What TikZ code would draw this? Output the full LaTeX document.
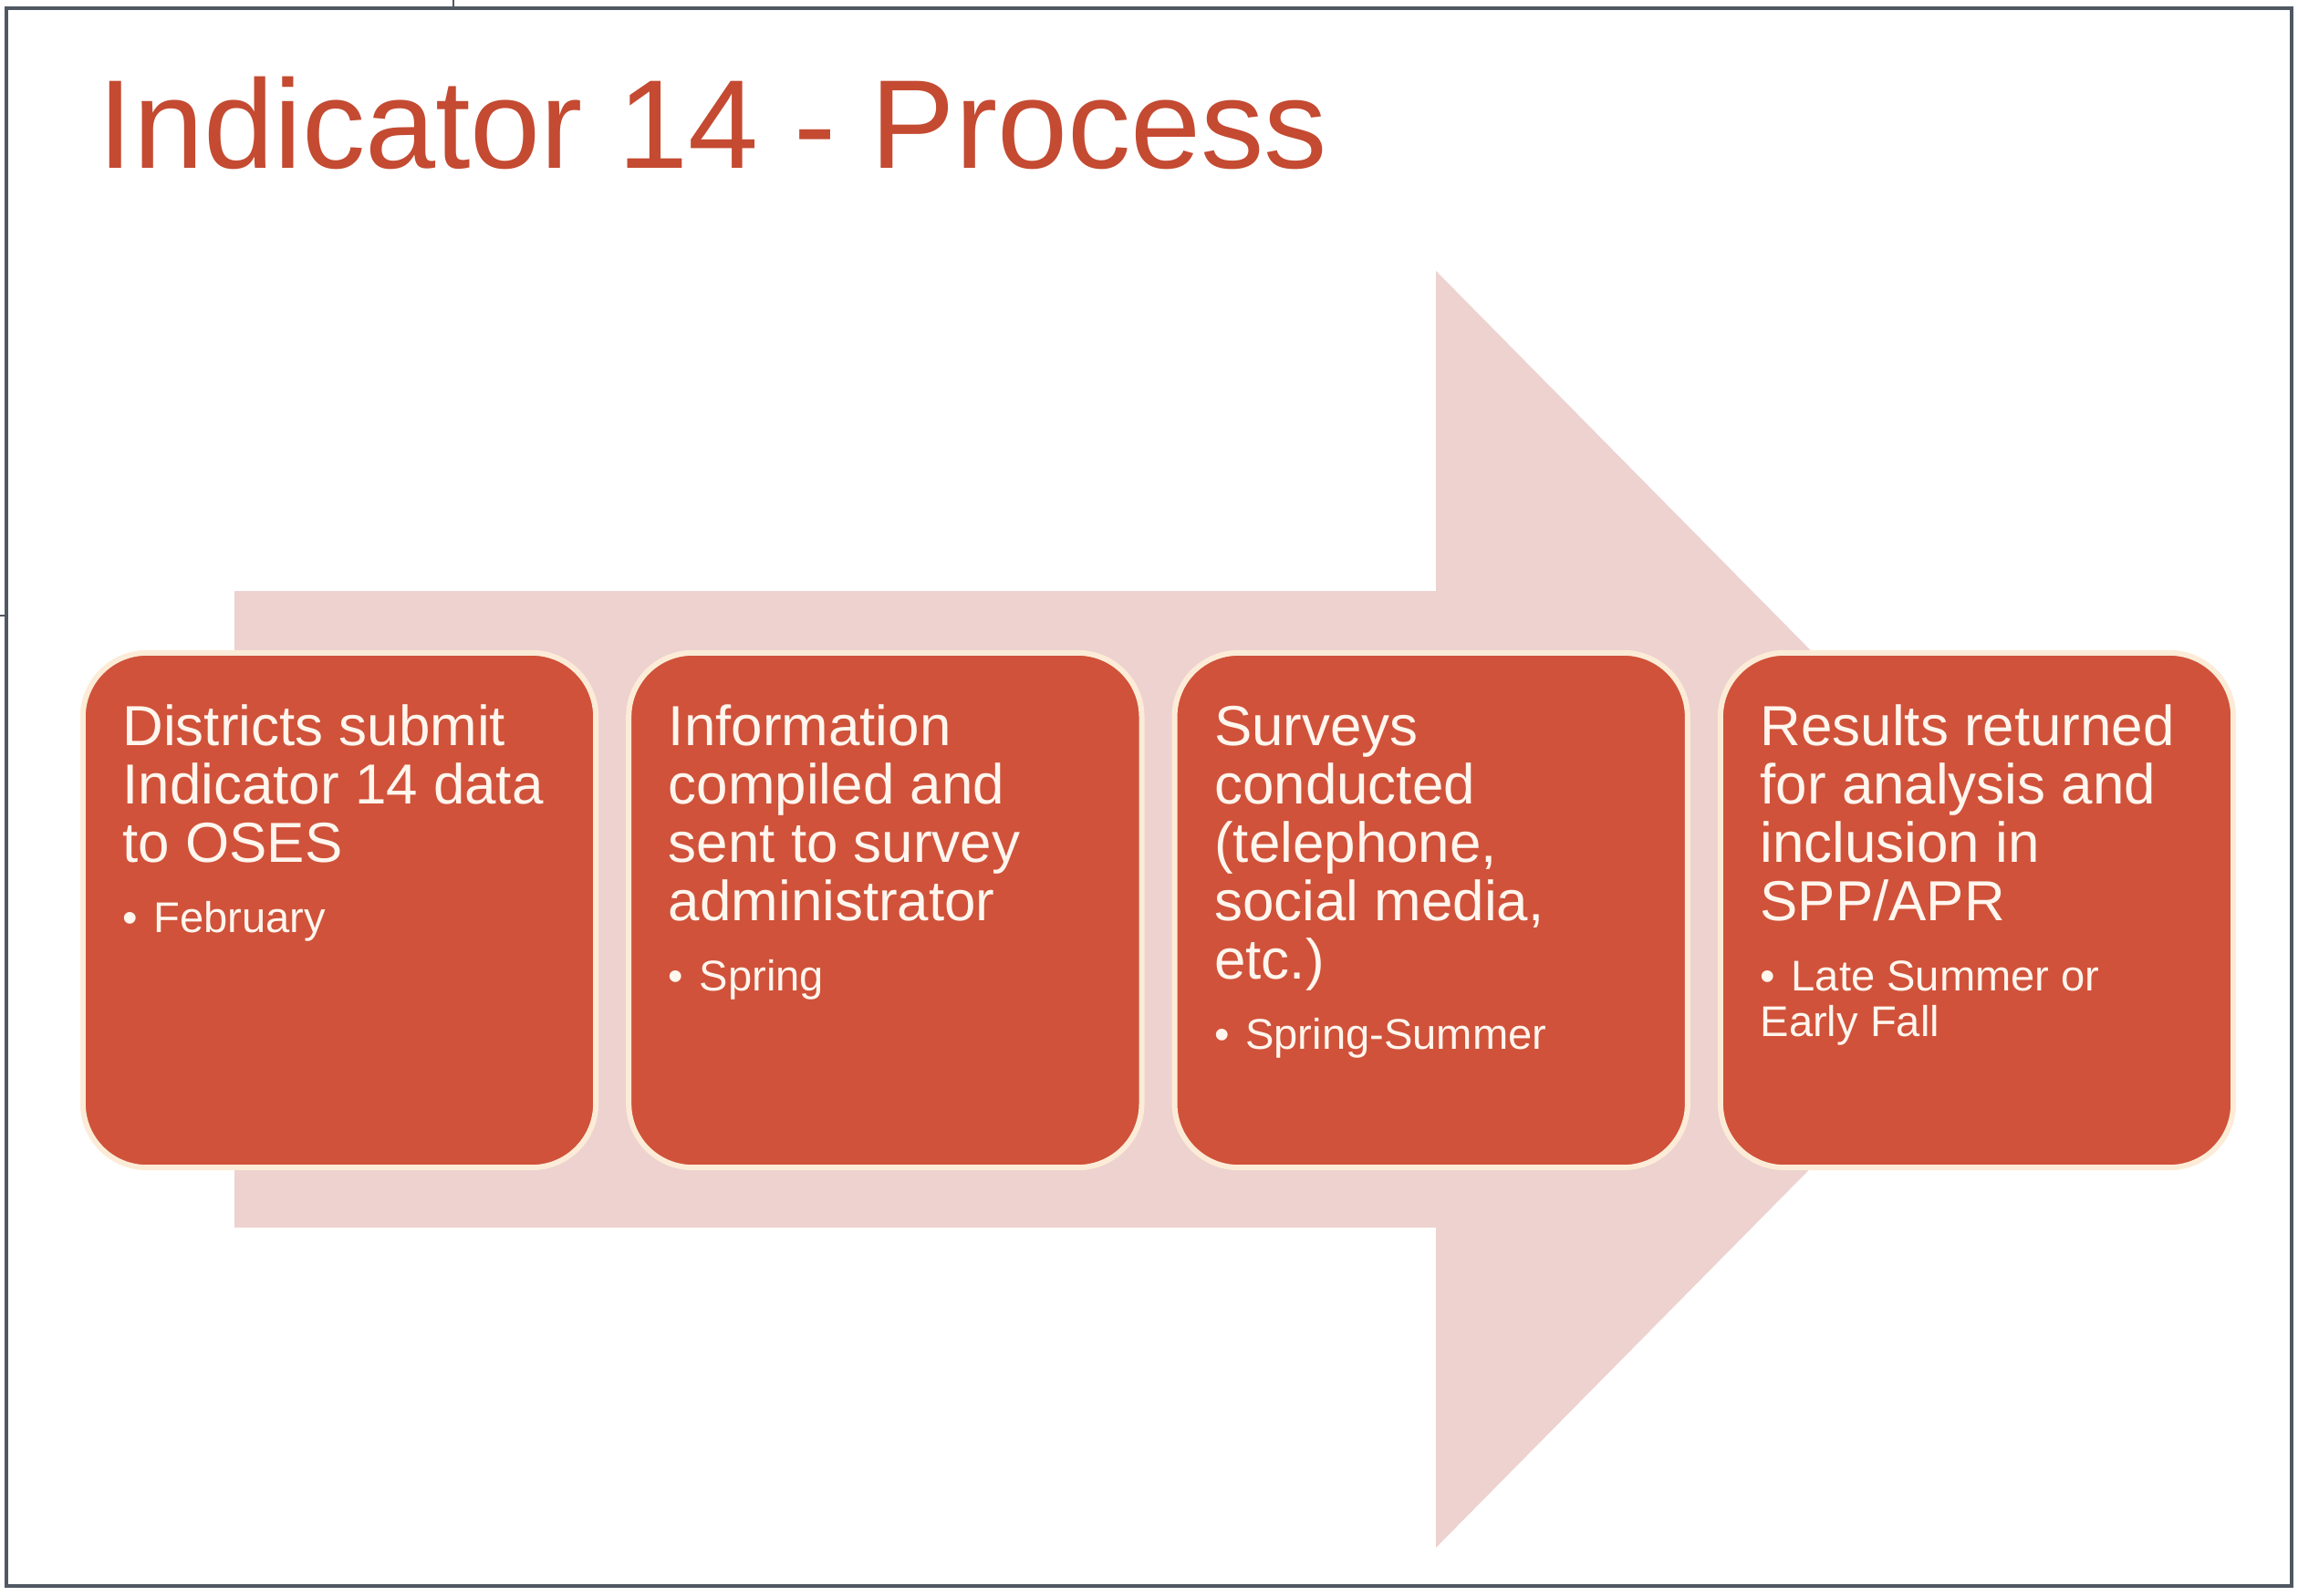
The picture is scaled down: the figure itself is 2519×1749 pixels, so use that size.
\documentclass[tikz,border=0pt]{standalone}
\usepackage{fontspec}
\setmainfont{Liberation Sans}
\usetikzlibrary{positioning}
\definecolor{procred}{RGB}{208,82,58}
\definecolor{titlered}{RGB}{196,74,50}
\definecolor{arrowpink}{RGB}{237,210,208}
\definecolor{boxrim}{RGB}{252,236,215}
\definecolor{framegray}{RGB}{80,88,98}
\definecolor{boxtext}{RGB}{255,246,238}
\tikzset{
  stepbox/.style={draw=boxrim, line width=0.06cm, fill=procred, rounded corners=0.7cm,
    minimum width=5.62cm, minimum height=5.64cm, inner sep=0pt, outer sep=0pt},
  steptext/.style={anchor=base west, text width=5.1cm, align=flush left, inner sep=0pt,
    text=boxtext, font=\fontsize{17.6}{18.2}\selectfont},
}
\newcommand{\when}[1]{\par\vspace{0.27cm}\fontsize{13.4}{14.2}\selectfont
  \hangindent=0.34cm\hangafter=1\makebox[0.34cm][l]{\textbullet}#1\par}

\begin{document}
\begin{tikzpicture}[x=0.01cm,y=-0.01cm]
  \useasboundingbox (0,0) rectangle (2519,1749);
  \draw[framegray, line width=0.04cm] (7,9) rectangle (2512,1739);
  \draw[framegray, line width=0.02cm] (497,0) -- (497,9);
  \draw[framegray, line width=0.02cm] (0,675) -- (7,675);

  \node[anchor=base west, inner sep=0pt, text=titlered, font=\fontsize{39.4}{41}\selectfont]
    (title) at (107,185) {Indicator 14 - Process};

  \fill[arrowpink] (257,648) -- (1574,648) -- (1574,297) -- (2265,997)
    -- (1574,1697) -- (1574,1346) -- (257,1346) -- cycle;

  \node[stepbox] (b1) at (372,998) {};
  \node[stepbox, right=0.36cm of b1] (b2) {};
  \node[stepbox, right=0.36cm of b2] (b3) {};
  \node[stepbox, right=0.36cm of b3] (b4) {};

  \node[steptext] (t1) at ([xshift=0.43cm,yshift=-1.02cm]b1.north west)
    {Districts submit\\Indicator 14 data\\to OSES\when{February}};
  \node[steptext] (t2) at ([xshift=0.43cm,yshift=-1.02cm]b2.north west)
    {Information\\compiled and\\sent to survey\\administrator\when{Spring}};
  \node[steptext] (t3) at ([xshift=0.43cm,yshift=-1.02cm]b3.north west)
    {Surveys\\conducted\\(telephone,\\social media,\\etc.)\when{Spring-Summer}};
  \node[steptext] (t4) at ([xshift=0.43cm,yshift=-1.02cm]b4.north west)
    {Results returned\\for analysis and\\inclusion in\\SPP/APR\when{Late Summer or\\Early Fall}};
\end{tikzpicture}
\end{document}
